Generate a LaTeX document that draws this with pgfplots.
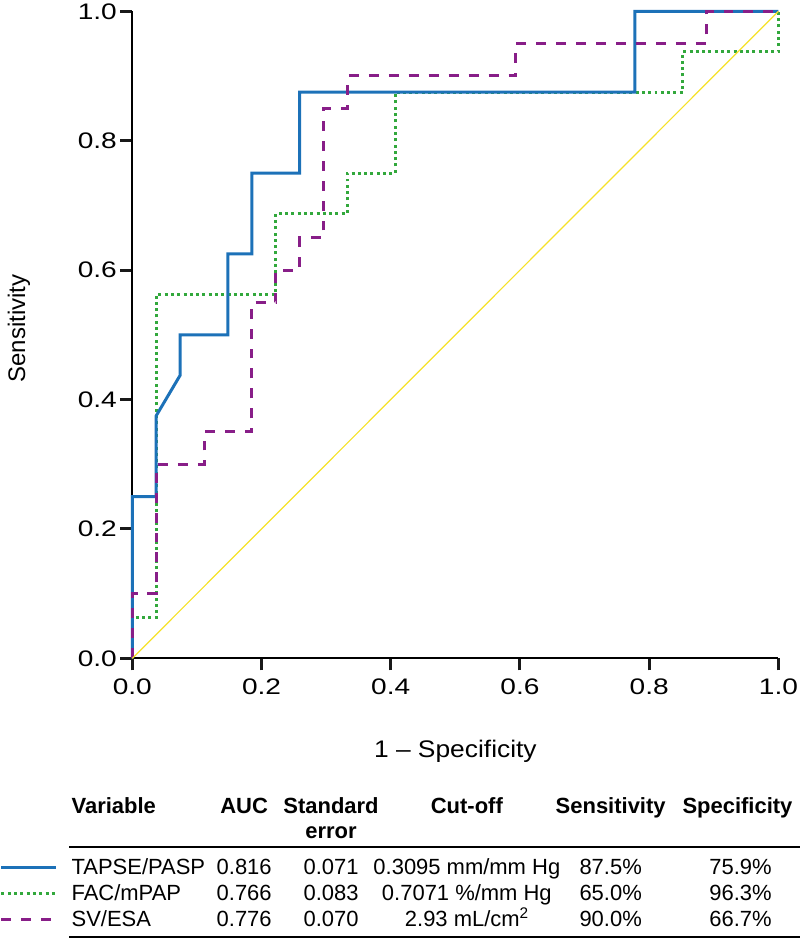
\documentclass[border=0pt]{standalone}
\usepackage{fontspec}
\setmainfont{Liberation Sans}
\usepackage{graphicx}
\usepackage{pgfplots}
\pgfplotsset{compat=1.18}
\definecolor{cblue}{RGB}{28,113,184}
\definecolor{cgreen}{RGB}{50,168,60}
\definecolor{cpurple}{RGB}{136,30,136}
\definecolor{cyellow}{RGB}{245,225,40}
\definecolor{ctick}{RGB}{25,25,25}
\newcommand{\sx}[1]{\scalebox{1.25}[1]{#1}}
\newcommand{\tf}{\fontsize{22}{26}\selectfont}
\begin{document}
\begin{tikzpicture}
\begin{axis}[
  at={(131pt,-658pt)}, anchor=south west,
  scale only axis, width=647pt, height=648pt,
  xmin=0, xmax=1, ymin=0, ymax=1,
  axis x line*=bottom, axis y line*=left,
  axis line style={line width=2pt, black},
  xtick align=outside, ytick align=outside,
  major tick length=12pt,
  xtick style={draw=ctick, line width=3pt},
  ytick style={draw=ctick, line width=3pt},
  xtick={0,0.2,0.4,0.6,0.8,1}, ytick={0,0.2,0.4,0.6,0.8,1},
  xticklabels={\sx{0.0},\sx{0.2},\sx{0.4},\sx{0.6},\sx{0.8},\sx{1.0}},
  yticklabels={\sx{0.0},\sx{0.2},\sx{0.4},\sx{0.6},\sx{0.8},\sx{1.0}},
  ticklabel style={font=\fontsize{22.5}{26}\selectfont},
  xticklabel style={yshift=-5pt},
  xlabel={\scalebox{1.1}[1]{1 – Specificity}},
  ylabel={Sensitivity},
  label style={font=\fontsize{24}{28}\selectfont},
  xlabel style={at={(axis description cs:0.5,-0.1528)}, anchor=base},
  ylabel style={at={(axis description cs:-0.1754,0.51)}, anchor=center},
  clip=false,
]
\addplot[cgreen, line width=3pt, dash pattern=on 3pt off 3.3pt] coordinates {
(0,0) (0,0.0625) (0.037,0.0625) (0.037,0.5625) (0.222,0.5625) (0.222,0.6875)
(0.333,0.6875) (0.333,0.75) (0.407,0.75) (0.407,0.875) (0.852,0.875)
(0.852,0.9375) (1,0.9375) (1,1)};
\addplot[cblue, line width=3pt] coordinates {
(0,0) (0,0.25) (0.037,0.25) (0.037,0.375) (0.074,0.4375) (0.074,0.5)
(0.148,0.5) (0.148,0.625) (0.185,0.625) (0.185,0.75) (0.259,0.75)
(0.259,0.875) (0.778,0.875) (0.778,1) (1,1)};
\addplot[cpurple, line width=3pt, dash pattern=on 10pt off 10pt] coordinates {
(0,0) (0,0.1) (0.037,0.1) (0.037,0.3) (0.111,0.3) (0.111,0.35) (0.185,0.35)
(0.185,0.55) (0.222,0.55) (0.222,0.6) (0.259,0.6) (0.259,0.65) (0.296,0.65)
(0.296,0.85) (0.333,0.85) (0.333,0.9) (0.593,0.9) (0.593,0.95) (0.889,0.95)
(0.889,1) (1,1)};
\addplot[cyellow, line width=1.2pt] coordinates {(0,0) (1,1)};
\end{axis}
% table
\begin{scope}[x=1pt, y=1pt, every node/.style={font=\tf, inner sep=0pt}]
\node[anchor=base west] at (70,-813) {\bfseries Variable};
\node[anchor=base] at (243,-813) {\bfseries AUC};
\node[anchor=base] at (330,-813) {\bfseries Standard};
\node[anchor=base] at (330,-838) {\bfseries error};
\node[anchor=base] at (466,-813) {\bfseries Cut-off};
\node[anchor=base] at (610,-813) {\bfseries Sensitivity};
\node[anchor=base] at (737,-813) {\bfseries Specificity};
\draw[line width=1.8pt] (68,-847) -- (800,-847);
\draw[line width=1.8pt] (68,-937) -- (800,-937);
\draw[cblue, line width=3pt] (0,-867) -- (55,-867);
\draw[cgreen, line width=3pt, dash pattern=on 3pt off 3.3pt] (0,-893) -- (55,-893);
\draw[cpurple, line width=3pt, dash pattern=on 10pt off 10pt] (0,-919) -- (55,-919);
\node[anchor=base west] at (70,-874) {TAPSE/PASP};
\node[anchor=base west] at (70,-900) {FAC/mPAP};
\node[anchor=base west] at (70,-926) {SV/ESA};
\node[anchor=base] at (243,-874) {0.816};
\node[anchor=base] at (243,-900) {0.766};
\node[anchor=base] at (243,-926) {0.776};
\node[anchor=base] at (330,-874) {0.071};
\node[anchor=base] at (330,-900) {0.083};
\node[anchor=base] at (330,-926) {0.070};
\node[anchor=base] at (466,-874) {0.3095 mm/mm Hg};
\node[anchor=base] at (466,-900) {0.7071 \%/mm Hg};
\node[anchor=base] at (466,-926) {2.93 mL/cm\textsuperscript{2}};
\node[anchor=base] at (610,-874) {87.5\%};
\node[anchor=base] at (610,-900) {65.0\%};
\node[anchor=base] at (610,-926) {90.0\%};
\node[anchor=base] at (740,-874) {75.9\%};
\node[anchor=base] at (740,-900) {96.3\%};
\node[anchor=base] at (740,-926) {66.7\%};
\path (0pt,0pt) rectangle (800pt,-939pt);
\end{scope}
\end{tikzpicture}
\end{document}
